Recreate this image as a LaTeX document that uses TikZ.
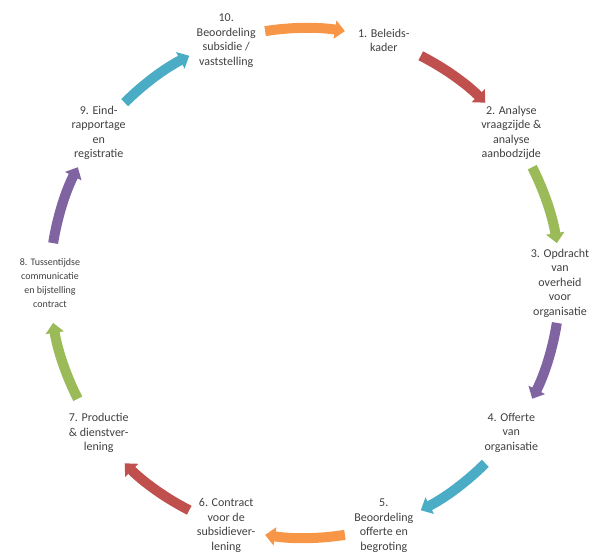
\documentclass[tikz,border=0pt]{standalone}
\usepackage{fontspec}
\setmainfont{Carlito}
\usetikzlibrary{arrows.meta}
\definecolor{oranje}{HTML}{F79646}
\definecolor{rood}{HTML}{C0504D}
\definecolor{groen}{HTML}{9BBB59}
\definecolor{paars}{HTML}{8064A2}
\definecolor{blauw}{HTML}{4BACC6}
\definecolor{tekst}{HTML}{404040}
\tikzset{ stap/.style={align=center,text=tekst,font=\fontsize{12}{14.5}\selectfont},
  pijl/.style={line width=10pt,-{Triangle[width=18pt,length=10pt]}} }

\begin{document}
\begin{tikzpicture}[x=1pt,y=1pt]
   \useasboundingbox (-305,-273) rectangle (289,283);
   \node[stap] (s1) at (72:255) {1. Beleids-\\kader};
   \node[stap] (s2) at (36:255) {2. Analyse\\vraagzijde \&\\analyse\\aanbodzijde};
   \node[stap] (s3) at (0:255) {3. Opdracht\\van\\overheid\\voor\\organisatie};
   \node[stap] (s4) at (-36:255) {4. Offerte\\van\\organisatie};
   \node[stap] (s5) at (-72:255) {5.\\Beoordeling\\offerte en\\begroting};
   \node[stap] (s6) at (-108:255) {6. Contract\\voor de\\subsidiever-\\lening};
   \node[stap] (s7) at (-144:255) {7. Productie\\\& dienstver-\\lening};
   \node[stap,font=\fontsize{10}{14}\selectfont] (s8) at (180:255) {8. Tussentijdse\\communicatie\\en bijstelling\\contract};
   \node[stap] (s9) at (144:255) {9. Eind-\\rapportage\\en\\registratie};
   \node[stap] (s10) at (108:255) {10.\\Beoordeling\\subsidie /\\vaststelling};
   \coordinate (p1) at (99:255);
   \coordinate (p2) at (63:255);
   \coordinate (p3) at (27:255);
   \coordinate (p4) at (-9:255);
   \coordinate (p5) at (-45:255);
   \coordinate (p6) at (-81:255);
   \coordinate (p7) at (-117:255);
   \coordinate (p8) at (-153:255);
   \coordinate (p9) at (171:255);
   \coordinate (p10) at (135:255);
   \draw[pijl,oranje] (p1) arc[start angle=99,end angle=81,radius=255];
   \draw[pijl,rood] (p2) arc[start angle=63,end angle=45,radius=255];
   \draw[pijl,groen] (p3) arc[start angle=27,end angle=9,radius=255];
   \draw[pijl,paars] (p4) arc[start angle=-9,end angle=-27,radius=255];
   \draw[pijl,blauw] (p5) arc[start angle=-45,end angle=-63,radius=255];
   \draw[pijl,oranje] (p6) arc[start angle=-81,end angle=-99,radius=255];
   \draw[pijl,rood] (p7) arc[start angle=-117,end angle=-135,radius=255];
   \draw[pijl,groen] (p8) arc[start angle=-153,end angle=-171,radius=255];
   \draw[pijl,paars] (p9) arc[start angle=171,end angle=153,radius=255];
   \draw[pijl,blauw] (p10) arc[start angle=135,end angle=117,radius=255];
\end{tikzpicture}
\end{document}
